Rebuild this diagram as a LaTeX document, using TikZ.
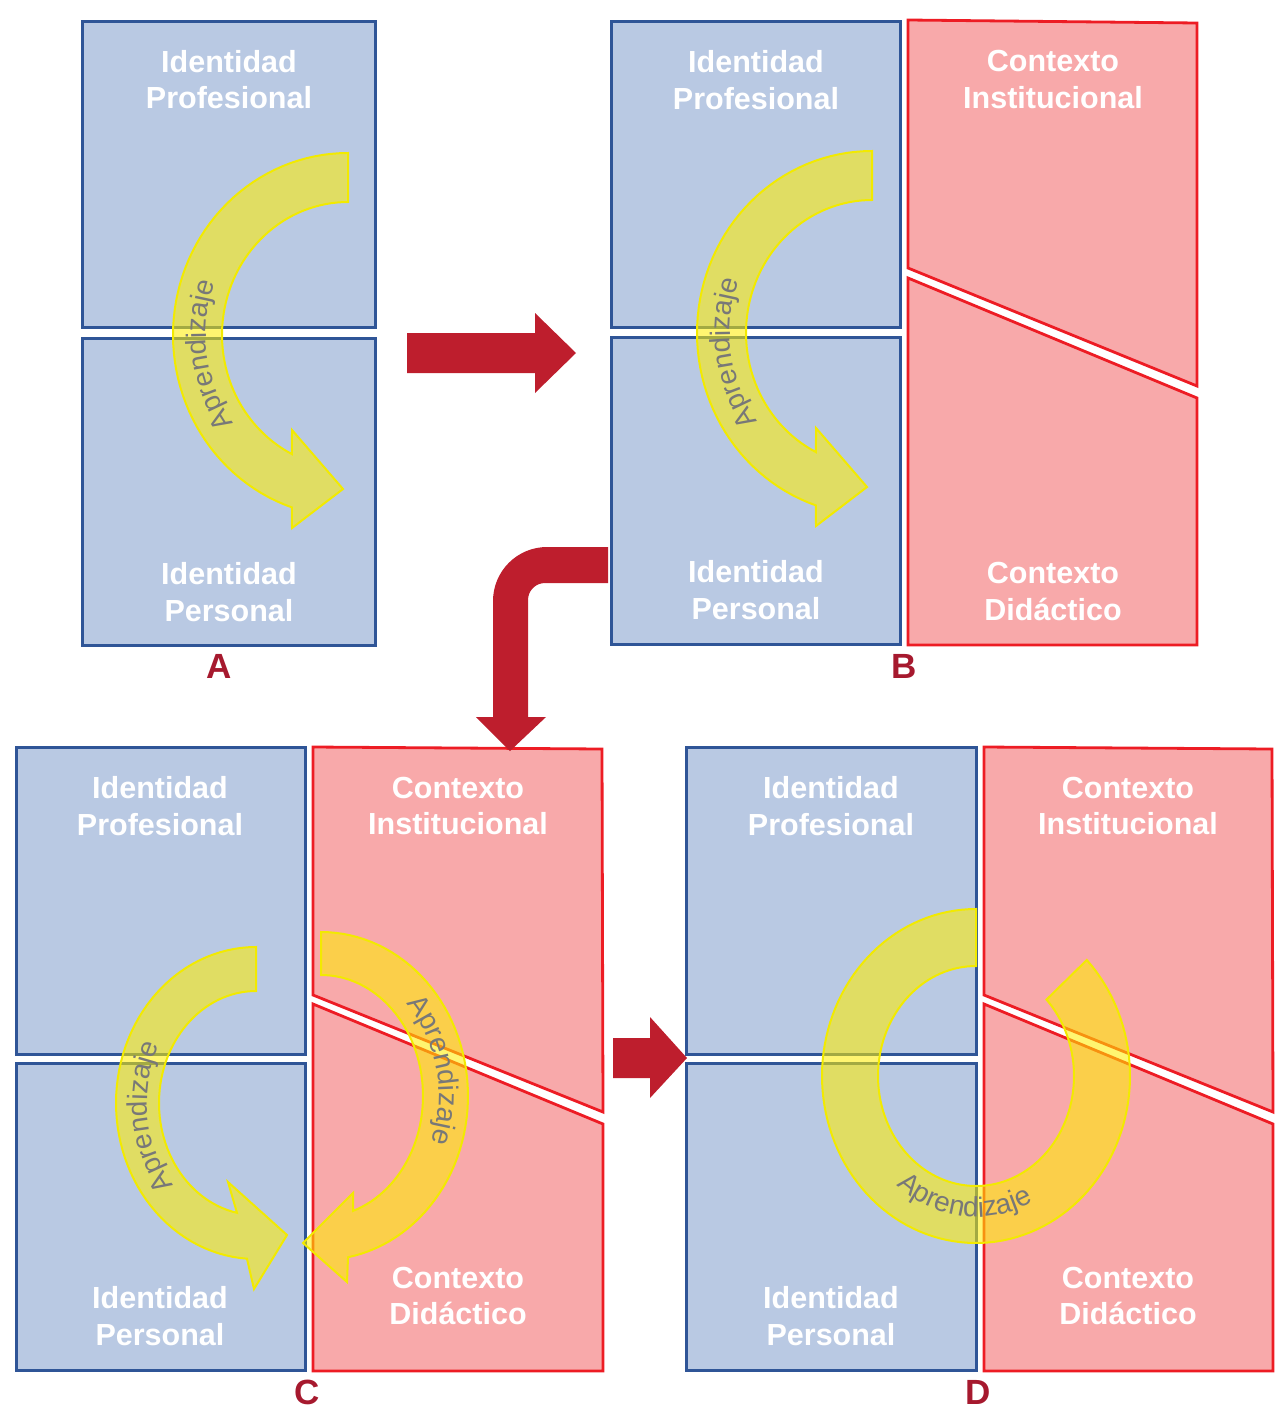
\documentclass[tikz,border=0pt]{standalone}
\usepackage{fontspec}
\setmainfont{Liberation Sans}
\usetikzlibrary{decorations.text}

\definecolor{boxblue}{RGB}{185,201,227}
\definecolor{edgeblue}{RGB}{47,85,151}
\definecolor{boxpink}{RGB}{248,169,170}
\definecolor{edgered}{RGB}{237,28,36}
\definecolor{arrowred}{RGB}{190,30,45}
\definecolor{labelred}{RGB}{166,25,46}
\definecolor{cycleyellow}{RGB}{255,238,0}
\definecolor{cycleedge}{RGB}{242,234,0}
\definecolor{cyclegray}{RGB}{120,120,120}

\tikzset{
  idbox/.style={fill=boxblue, draw=edgeblue, line width=3pt},
  ctxbox/.style={fill=boxpink, draw=edgered, line width=2.8pt, line join=miter},
  boxtext/.style={text=white, font=\fontsize{30.5}{36}\selectfont\bfseries, anchor=base, inner sep=0pt},
  paneltag/.style={text=labelred, font=\fontsize{35}{40}\selectfont\bfseries, anchor=base, inner sep=0pt},
  blockarrow/.style={fill=arrowred, draw=none},
  cyclearrow/.style={fill=cycleyellow, fill opacity=0.56, draw=cycleedge, line width=2pt, line join=miter},
  cyclelabel/.style={decorate, decoration={text along path, text align=center,
      text={|\fontsize{28}{30}\selectfont\color{cyclegray}|Aprendizaje}}},
}

\begin{document}
\begin{tikzpicture}[x=1pt,y=-1pt]
\useasboundingbox (0,0) rectangle (1279,1416);

% ---------- Panel A ----------
\draw[idbox] (82,21) rectangle (375,327);
\draw[idbox] (82,338) rectangle (375,645);

\path[cyclearrow] plot[domain=270:108.7,samples=60] ({348+175*cos(\x)},{335+182*sin(\x)})
  -- (292,528) -- (343,489) -- (292,430)
  -- plot[domain=116.4:270,samples=60] ({348+126*cos(\x)},{335+133*sin(\x)}) -- cycle;
\path[cyclelabel] plot[domain=127:217,samples=40] ({348+142*cos(\x)},{335+149*sin(\x)});

\node[boxtext] (aProf1) at (229,72) {Identidad};
\node[boxtext] (aProf2) at (229,108) {Profesional};
\node[boxtext] (aPers1) at (229,584) {Identidad};
\node[boxtext] (aPers2) at (229,621) {Personal};
\node[paneltag] (tagA) at (219,678) {A};

% ---------- Panel B ----------
\draw[idbox] (611,21) rectangle (900,327);
\draw[idbox] (611,337) rectangle (900,644);
\draw[ctxbox] (908,20) -- (1197,23) -- (1197,386) -- (908,268) -- cycle;
\draw[ctxbox] (908,278) -- (1197,398) -- (1197,645) -- (908,645) -- cycle;

\path[cyclearrow] plot[domain=270:108.7,samples=60] ({872+175*cos(\x)},{333+182*sin(\x)})
  -- (816,526) -- (867,487) -- (816,428)
  -- plot[domain=116.4:270,samples=60] ({872+126*cos(\x)},{333+133*sin(\x)}) -- cycle;
\path[cyclelabel] plot[domain=127:217,samples=40] ({872+142*cos(\x)},{333+149*sin(\x)});

\node[boxtext] (bProf1) at (756,72) {Identidad};
\node[boxtext] (bProf2) at (756,109) {Profesional};
\node[boxtext] (bPers1) at (756,582) {Identidad};
\node[boxtext] (bPers2) at (756,619) {Personal};
\node[boxtext] (bInst1) at (1053,71) {Contexto};
\node[boxtext] (bInst2) at (1053,108) {Institucional};
\node[boxtext] (bDid1) at (1053,583) {Contexto};
\node[boxtext] (bDid2) at (1053,620) {Didáctico};
\node[paneltag] (tagB) at (904,678) {B};

% ---------- Panel C ----------
\draw[idbox] (16,747) rectangle (305,1054);
\draw[idbox] (16,1063) rectangle (305,1370);
\draw[ctxbox] (313,747) -- (602,749) -- (603,1112) -- (313,995) -- cycle;
\draw[ctxbox] (313,1004) -- (603,1124) -- (603,1371) -- (313,1371) -- cycle;

\path[cyclearrow] plot[domain=270:93.7,samples=60] ({256+140*cos(\x)},{1103+156*sin(\x)})
  -- (254,1289) -- (287,1235) -- (228,1182)
  -- plot[domain=101.3:270,samples=60] ({256+97*cos(\x)},{1103+112*sin(\x)}) -- cycle;
\path[cyclelabel] plot[domain=128:218,samples=40] ({256+109*cos(\x)},{1103+125*sin(\x)});

\path[cyclearrow] plot[domain=270:439.4,samples=60] ({321+147*cos(\x)},{1096+164*sin(\x)})
  -- (347,1282) -- (303,1243) -- (353,1193)
  -- plot[domain=431.7:270,samples=60] ({321+102*cos(\x)},{1096+121*sin(\x)}) -- cycle;
\path[cyclelabel] plot[domain=303:393,samples=40] ({321+118*cos(\x)},{1096+134*sin(\x)});

\node[boxtext] (cProf1) at (160,798) {Identidad};
\node[boxtext] (cProf2) at (160,835) {Profesional};
\node[boxtext] (cPers1) at (160,1308) {Identidad};
\node[boxtext] (cPers2) at (160,1345) {Personal};
\node[boxtext] (cInst1) at (458,798) {Contexto};
\node[boxtext] (cInst2) at (458,834) {Institucional};
\node[boxtext] (cDid1) at (458,1288) {Contexto};
\node[boxtext] (cDid2) at (458,1324) {Didáctico};
\node[paneltag] (tagC) at (307,1404) {C};

% ---------- Panel D ----------
\draw[idbox] (686,747) rectangle (976,1054);
\draw[idbox] (686,1063) rectangle (976,1370);
\draw[ctxbox] (984,747) -- (1272,749) -- (1273,1112) -- (984,995) -- cycle;
\draw[ctxbox] (984,1004) -- (1273,1124) -- (1273,1371) -- (984,1371) -- cycle;

\path[cyclearrow] plot[domain=270:-44,samples=120] ({976+154*cos(\x)},{1076+167*sin(\x)})
  -- plot[domain=-44:270,samples=120] ({976+98*cos(\x)},{1076+110*sin(\x)}) -- cycle;
\path[cyclelabel] plot[domain=140:52,samples=40] ({976+126*cos(\x)},{1076+141*sin(\x)});

\node[boxtext] (dProf1) at (831,798) {Identidad};
\node[boxtext] (dProf2) at (831,835) {Profesional};
\node[boxtext] (dPers1) at (831,1308) {Identidad};
\node[boxtext] (dPers2) at (831,1345) {Personal};
\node[boxtext] (dInst1) at (1128,798) {Contexto};
\node[boxtext] (dInst2) at (1128,834) {Institucional};
\node[boxtext] (dDid1) at (1128,1288) {Contexto};
\node[boxtext] (dDid2) at (1128,1324) {Didáctico};
\node[paneltag] (tagD) at (978,1404) {D};

% ---------- Transitions between panels ----------
\fill[blockarrow] (407,333) -- (535,333) -- (535,313) -- (576,353) -- (535,393)
  -- (535,373) -- (407,373) -- cycle;
\fill[blockarrow] (608,547) -- (547,547) .. controls (517.2,547) and (493,571.2) .. (493,601)
  -- (493,717) -- (476,717) -- (510,751) -- (546,717) -- (528,717) -- (528,600)
  .. controls (528,590.6) and (535.6,583) .. (545,583) -- (608,583) -- cycle;
\fill[blockarrow] (613,1038) -- (650,1038) -- (650,1017) -- (687,1058) -- (650,1098)
  -- (650,1078) -- (613,1078) -- cycle;

\end{tikzpicture}
\end{document}
